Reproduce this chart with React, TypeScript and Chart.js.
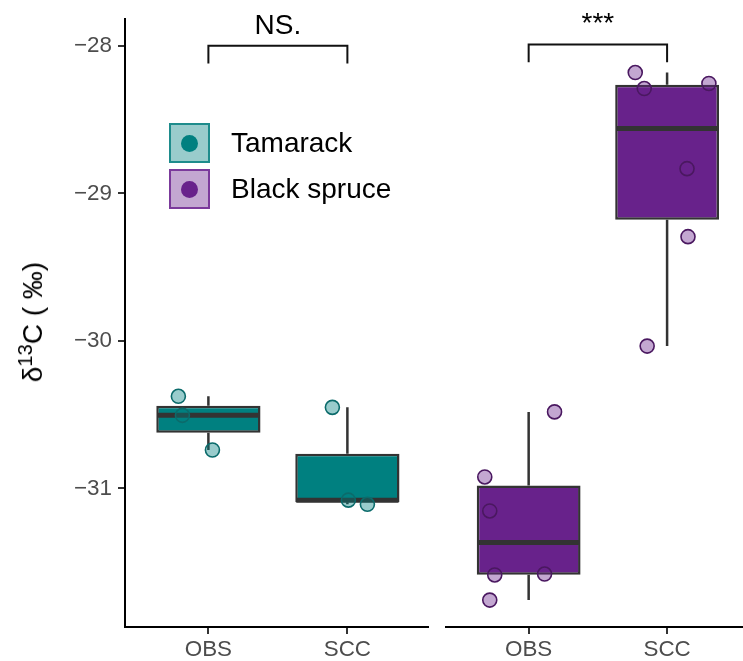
import React, { useEffect, useRef } from "react";
import { Chart, registerables } from "chart.js";

Chart.register(...registerables);

// ---------------- data ----------------
const categories = ["OBS", "SCC"];
const speciesNames = ["Tamarack", "Black spruce"];
const tamarackOBS = [-30.376, -30.505, -30.74];
const tamarackSCC = [-30.451, -31.08, -31.108];
const blackSpruceOBS = [-30.485, -30.925, -31.155, -31.588, -31.582, -31.758];
const blackSpruceSCC = [-28.19, -28.298, -28.264, -28.84, -29.3, -30.04];
// horizontal jitter of each point, in category units
const tamarackOBSJitter = [-0.216, -0.187, 0.029];
const tamarackSCCJitter = [-0.108, 0.007, 0.144];
const blackSpruceOBSJitter = [0.187, -0.317, -0.281, -0.245, 0.115, -0.281];
const blackSpruceSCCJitter = [-0.23, -0.165, 0.302, 0.144, 0.151, -0.144];
const yTicks = [-31, -30, -29, -28];
const significance = ["NS.", "***"];
const bracketTop = -28.0;
const bracketBottom = -28.12;
const yMin = -31.94;
const yMax = -27.821;

// ---------------- styles ----------------
const FONT = "'Liberation Sans', Arial, Helvetica, sans-serif";
const TEAL = "#008080";
const PURPLE = "#68228B";
const TICK_COLOR = "#4D4D4D";

function quantile(sorted: number[], p: number) {
  const h = (sorted.length - 1) * p;
  const lo = Math.floor(h);
  const hi = Math.ceil(h);
  return sorted[lo] + (h - lo) * (sorted[hi] - sorted[lo]);
}

function boxStats(vals: number[]) {
  const s = [...vals].sort((a, b) => a - b);
  const q1 = quantile(s, 0.25);
  const med = quantile(s, 0.5);
  const q3 = quantile(s, 0.75);
  const iqr = q3 - q1;
  const lo = s.find((v) => v >= q1 - 1.5 * iqr) as number;
  const hi = [...s].reverse().find((v) => v <= q3 + 1.5 * iqr) as number;
  return { q1, med, q3, lo, hi };
}

const boxPlugin = {
  id: "boxExtras",
  afterDatasetDraw(chart: any, args: any) {
    const ds: any = chart.data.datasets[args.index];
    if (!ds.boxStats) return;
    const ctx = chart.ctx;
    const ys = chart.scales.y;
    ctx.save();
    args.meta.data.forEach((bar: any, i: number) => {
      const st = ds.boxStats[i];
      const { x, width } = bar.getProps(["x", "width"], true);
      ctx.strokeStyle = "#333333";
      ctx.lineCap = "butt";
      ctx.lineWidth = 2.5;
      ctx.beginPath();
      ctx.moveTo(x, ys.getPixelForValue(st.q3));
      ctx.lineTo(x, ys.getPixelForValue(st.hi));
      ctx.moveTo(x, ys.getPixelForValue(st.q1));
      ctx.lineTo(x, ys.getPixelForValue(st.lo));
      ctx.stroke();
      const ym = ys.getPixelForValue(st.med);
      ctx.lineWidth = 5;
      ctx.beginPath();
      ctx.moveTo(x - width / 2 + 1, ym);
      ctx.lineTo(x + width / 2 - 1, ym);
      ctx.stroke();
    });
    ctx.restore();
  },
};

function makeBracketPlugin(label: string) {
  return {
    id: "bracket",
    afterDraw(chart: any) {
      const ctx = chart.ctx;
      const xs = chart.scales.x;
      const ys = chart.scales.y;
      const x1 = xs.getPixelForValue(1);
      const x2 = xs.getPixelForValue(2);
      const yt = ys.getPixelForValue(bracketTop);
      const yb = ys.getPixelForValue(bracketBottom);
      ctx.save();
      ctx.strokeStyle = "#111111";
      ctx.lineWidth = 2;
      ctx.beginPath();
      ctx.moveTo(x1, yb);
      ctx.lineTo(x1, yt);
      ctx.lineTo(x2, yt);
      ctx.lineTo(x2, yb);
      ctx.stroke();
      ctx.fillStyle = "#000000";
      ctx.font = `28px ${FONT}`;
      ctx.textAlign = "center";
      ctx.textBaseline = "alphabetic";
      ctx.fillText(label, (x1 + x2) / 2, yt - 12);
      ctx.restore();
    },
  };
}

type PanelSpec = {
  groups: number[][];
  jitter: number[][];
  boxFill: string;
  pointFill: string;
  pointBorder: string;
  label: string;
  showY: boolean;
  xMax: number;
  padLeft: number;
  padRight: number;
  width: number;
  left: number;
};

function buildConfig(p: PanelSpec): any {
  const stats = p.groups.map(boxStats);
  const points = p.groups.flatMap((vals, gi) =>
    vals.map((v, j) => ({ x: gi + 1 + p.jitter[gi][j], y: v }))
  );
  const axisGrid = {
    display: true,
    drawOnChartArea: false,
    drawTicks: true,
    tickLength: 7,
    color: "#333333",
    lineWidth: 2,
    offset: false,
  };
  const axisBorder = { display: true, color: "#000000", width: 2 };
  return {
    type: "scatter",
    data: {
      datasets: [
        {
          type: "scatter",
          order: 1,
          data: points,
          pointRadius: 7,
          pointHoverRadius: 7,
          backgroundColor: p.pointFill,
          borderColor: p.pointBorder,
          borderWidth: 1.6,
        },
        {
          type: "bar",
          order: 2,
          data: stats.map((s, i) => ({ x: i + 1, y: [s.q1, s.q3] })),
          boxStats: stats,
          backgroundColor: p.boxFill,
          borderColor: "#333333",
          borderWidth: 2.5,
          borderSkipped: false,
          categoryPercentage: 1,
          barPercentage: 0.75,
        },
      ],
    },
    options: {
      animation: false,
      responsive: false,
      events: [],
      layout: { padding: { top: 18, left: p.padLeft, right: p.padRight, bottom: 0 } },
      plugins: { legend: { display: false }, tooltip: { enabled: false } },
      scales: {
        x: {
          type: "linear",
          min: 0.4,
          max: p.xMax,
          offset: false,
          afterBuildTicks: (s: any) => {
            s.ticks = categories.map((_, i) => ({ value: i + 1 }));
          },
          afterFit: (s: any) => {
            s.height = 34;
          },
          ticks: {
            callback: (v: any) => categories[Math.round(v) - 1],
            font: { family: FONT, size: 22.4 },
            color: TICK_COLOR,
            padding: 2,
            maxRotation: 0,
            autoSkip: false,
          },
          grid: axisGrid,
          border: axisBorder,
        },
        y: {
          type: "linear",
          min: yMin,
          max: yMax,
          display: p.showY,
          afterBuildTicks: (s: any) => {
            s.ticks = yTicks.map((v) => ({ value: v }));
          },
          afterFit: (s: any) => {
            s.width = p.showY ? 125 : 0;
          },
          ticks: {
            callback: (v: any) => String(v).replace("-", "\u2212"),
            font: { family: FONT, size: 22.4 },
            color: TICK_COLOR,
            padding: 6,
          },
          grid: axisGrid,
          border: axisBorder,
        },
      },
    },
    plugins: [boxPlugin, makeBracketPlugin(p.label)],
  };
}

function Panel({ spec }: { spec: PanelSpec }) {
  const ref = useRef<HTMLCanvasElement | null>(null);
  useEffect(() => {
    if (!ref.current) return;
    const chart = new Chart(ref.current, buildConfig(spec));
    return () => chart.destroy();
  }, []);
  return (
    <canvas
      ref={ref}
      width={spec.width}
      height={661}
      style={{ position: "absolute", left: spec.left, top: 0, width: spec.width, height: 661 }}
    />
  );
}

const leftSpec: PanelSpec = {
  groups: [tamarackOBS, tamarackSCC],
  jitter: [tamarackOBSJitter, tamarackSCCJitter],
  boxFill: TEAL,
  pointFill: "rgba(0,128,128,0.4)",
  pointBorder: "#0B6B6B",
  label: significance[0],
  showY: true,
  xMax: 2.58,
  padLeft: 0,
  padRight: 9,
  width: 437,
  left: 0,
};

const rightSpec: PanelSpec = {
  groups: [blackSpruceOBS, blackSpruceSCC],
  jitter: [blackSpruceOBSJitter, blackSpruceSCCJitter],
  boxFill: PURPLE,
  pointFill: "rgba(104,34,139,0.4)",
  pointBorder: "#4A1860",
  label: significance[1],
  showY: false,
  xMax: 2.544,
  padLeft: 8,
  padRight: 0,
  width: 314,
  left: 437,
};

function LegendKey({ top, fill, border, dot, text }: any) {
  return (
    <>
      <div
        style={{
          position: "absolute",
          left: 169,
          top,
          width: 41,
          height: 40,
          boxSizing: "border-box",
          border: `2.5px solid ${border}`,
          background: fill,
        }}
      >
        <div
          style={{
            position: "absolute",
            left: "50%",
            top: "50%",
            width: 17,
            height: 17,
            marginLeft: -8.5,
            marginTop: -8.5,
            borderRadius: "50%",
            background: dot,
          }}
        />
      </div>
      <div
        style={{
          position: "absolute",
          left: 231,
          top: top + 20,
          transform: "translateY(-50%)",
          font: `28px ${FONT}`,
          color: "#000",
          whiteSpace: "nowrap",
          lineHeight: 1,
        }}
      >
        {text}
      </div>
    </>
  );
}

export default function App() {
  return (
    <div
      style={{
        position: "absolute",
        left: 0,
        top: 0,
        width: 743,
        height: 661,
        overflow: "hidden",
        background: "#ffffff",
      }}
    >
      <Panel spec={leftSpec} />
      <Panel spec={rightSpec} />
      <div
        style={{
          position: "absolute",
          left: 33,
          top: 322,
          transform: "translate(-50%, -50%) rotate(-90deg)",
          font: `28px ${FONT}`,
          color: "#000",
          whiteSpace: "nowrap",
          lineHeight: 1,
        }}
      >
        δ<sup style={{ fontSize: "0.72em", lineHeight: 0, verticalAlign: "0.5em" }}>13</sup>C ( ‰)
      </div>
      <LegendKey top={123} fill="#99CCCC" border="#1E8C8C" dot={TEAL} text={speciesNames[0]} />
      <LegendKey top={169} fill="#C3A7D1" border="#7B3A9B" dot={PURPLE} text={speciesNames[1]} />
    </div>
  );
}
